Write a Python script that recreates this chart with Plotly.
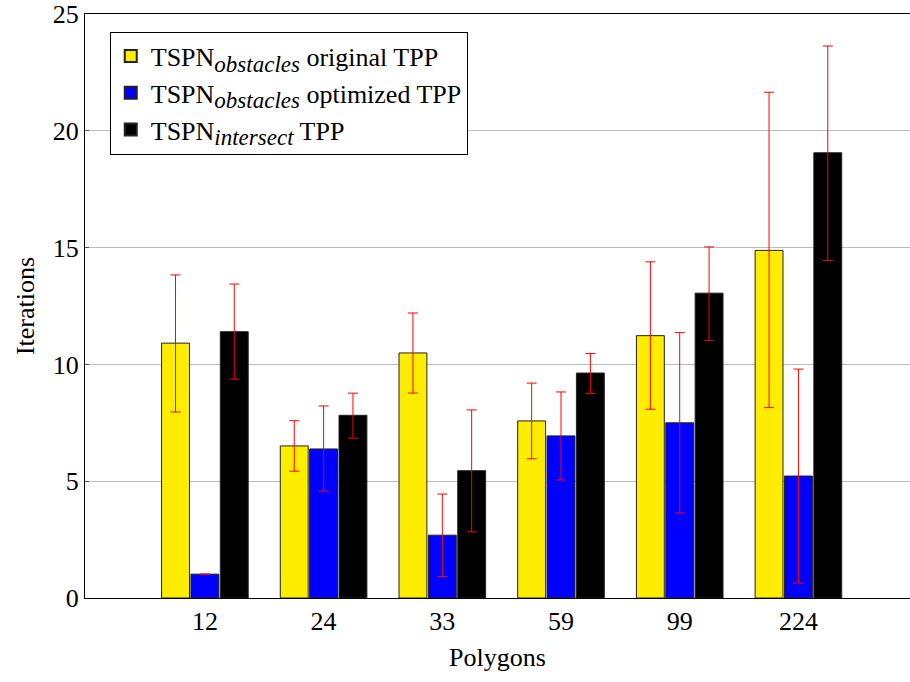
import plotly.graph_objects as go

categories = ["12", "24", "33", "59", "99", "224"]

orig_mean = [10.91, 6.51, 10.49, 7.58, 11.23, 14.88]
orig_hi = [13.83, 7.59, 12.20, 9.20, 14.39, 21.65]
orig_lo = [7.96, 5.43, 8.77, 5.96, 8.08, 8.15]

opt_mean = [1.02, 6.38, 2.69, 6.94, 7.50, 5.22]
opt_hi = [1.02, 8.22, 4.45, 8.82, 11.36, 9.80]
opt_lo = [1.02, 4.58, 0.92, 5.05, 3.64, 0.64]

inter_mean = [11.40, 7.82, 5.45, 9.63, 13.05, 19.06]
inter_hi = [13.44, 8.77, 8.05, 10.47, 15.03, 23.63]
inter_lo = [9.37, 6.84, 2.83, 8.76, 11.03, 14.45]

SUB = '<sub><span style="font-size:23px"><i>{}</i></span></sub>'
series = [
    ("TSPN" + SUB.format("obstacles") + " original TPP", orig_mean, orig_hi, orig_lo, "#FFED00"),
    ("TSPN" + SUB.format("obstacles") + " optimized TPP", opt_mean, opt_hi, opt_lo, "#0000FF"),
    ("TSPN" + SUB.format("intersect") + " TPP", inter_mean, inter_hi, inter_lo, "#000000"),
]

FONT = "Liberation Serif, Times New Roman, DejaVu Serif, serif"
FS = 26

fig = go.Figure()
for name, m, hi, lo, col in series:
    fig.add_trace(go.Bar(
        x=categories, y=m, name=name,
        marker=dict(color=col, line=dict(color="#222222", width=1)),
        error_y=dict(type="data", symmetric=False,
                     array=[h - v for h, v in zip(hi, m)],
                     arrayminus=[v - l for v, l in zip(m, lo)],
                     color="red", thickness=1, width=5),
    ))

fig.update_layout(
    width=910, height=682,
    margin=dict(l=85, r=0, t=12, b=84),
    paper_bgcolor="white", plot_bgcolor="white",
    barmode="group", bargap=0.258, bargroupgap=0.05,
    font=dict(family=FONT, size=FS, color="black"),
    showlegend=True,
    legend=dict(x=0.03, y=0.97, xanchor="left", yanchor="top",
                bordercolor="black", borderwidth=1, bgcolor="white",
                font=dict(family=FONT, size=FS), tracegroupgap=0,
                itemsizing="constant"),
    xaxis=dict(type="category", range=[-1.01, 5.94],
               showline=True, linecolor="black", linewidth=1, mirror=True,
               ticks="", showgrid=False,
               title=dict(text="Polygons", font=dict(family=FONT, size=FS), standoff=12),
               tickfont=dict(family=FONT, size=FS)),
    yaxis=dict(range=[0, 25], tickvals=[0, 5, 10, 15, 20, 25],
               ticklabeloverflow="allow",
               showline=True, linecolor="black", linewidth=1,
               ticks="inside", ticklen=4, tickcolor="#555555",
               showgrid=True, gridcolor="#BBBBBB", gridwidth=1,
               zeroline=False,
               title=dict(text="Iterations", font=dict(family=FONT, size=FS), standoff=10),
               tickfont=dict(family=FONT, size=FS)),
)

fig.write_html("out.html", config={"displayModeBar": False},
               post_script="document.body.style.margin='0';")
